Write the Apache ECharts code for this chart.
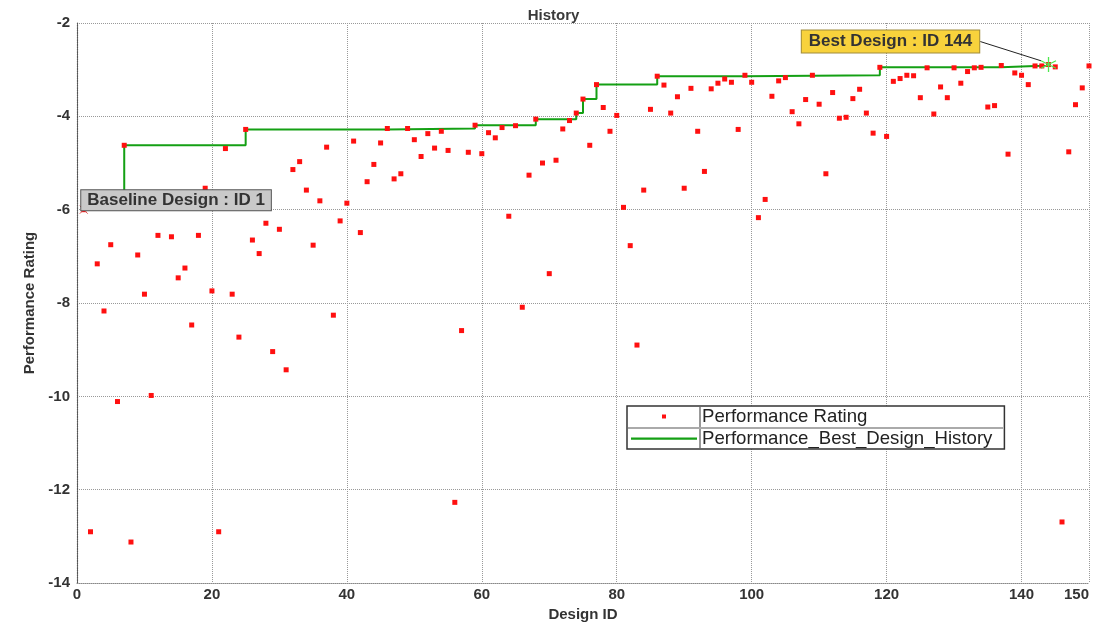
<!DOCTYPE html>
<html>
<head>
<meta charset="utf-8">
<script src="https://cdn.jsdelivr.net/npm/echarts@6/dist/echarts.min.js"></script>
<style>html,body{margin:0;padding:0;background:#fff;}#c{width:1107px;height:627px;}</style>
</head>
<body>
<div id="c"></div>
<script>
const chartTitle = 'History';
const xName = 'Design ID';
const yName = 'Performance Rating';
const scatterName = 'Performance Rating';
const bestName = 'Performance_Best_Design_History';

const designIds = [1,2,3,4,5,6,7,8,9,10,11,12,14,15,16,17,18,19,20,
  21,22,23,24,25,26,27,28,29,30,31,32,33,34,35,36,37,38,39,40,
  41,42,43,44,45,46,47,48,49,50,51,52,53,54,55,56,57,58,59,60,
  61,62,63,64,65,66,67,68,69,70,71,72,73,74,75,76,77,78,79,80,
  81,82,83,84,85,86,87,88,89,90,91,92,93,94,95,96,97,98,99,100,
  101,102,103,104,105,106,107,108,109,110,111,112,113,114,115,116,117,118,119,120,
  121,122,123,124,125,126,127,128,129,130,131,132,133,134,135,136,137,138,139,140,
  141,142,143,144,145,146,147,148,149,150];
const ratings = [-6.0,-12.9,-7.16,-8.17,-6.75,-10.11,-4.62,-13.12,-6.97,-7.81,-9.98,-6.55,-6.58,-7.46,-7.25,-8.47,-6.55,-5.54,-7.74,
  -12.9,-4.69,-7.81,-8.73,-4.28,-6.65,-6.94,-6.29,-9.04,-6.42,-9.43,-5.14,-4.97,-5.58,-6.76,-5.81,-4.66,-8.26,-6.24,-5.86,
  -4.53,-6.49,-5.40,-5.03,-4.57,-4.26,-5.34,-5.23,-4.26,-4.50,-4.86,-4.37,-4.68,-4.32,-4.73,-12.27,-8.59,-4.77,-4.19,-4.80,
  -4.35,-4.46,-4.24,-6.14,-4.20,-8.09,-5.26,-4.06,-5.00,-7.37,-4.94,-4.27,-4.09,-3.93,-3.63,-4.62,-3.32,-3.81,-4.32,-3.98,
  -5.95,-6.77,-8.90,-5.58,-3.85,-3.14,-3.33,-3.93,-3.58,-5.54,-3.40,-4.32,-5.18,-3.41,-3.29,-3.20,-3.27,-4.28,-3.12,-3.27,
  -6.17,-5.78,-3.57,-3.24,-3.17,-3.90,-4.16,-3.64,-3.12,-3.74,-5.23,-3.49,-4.04,-4.02,-3.62,-3.42,-3.93,-4.36,-2.95,-4.43,
  -3.25,-3.19,-3.12,-3.13,-3.60,-2.96,-3.95,-3.37,-3.60,-2.96,-3.29,-3.04,-2.96,-2.95,-3.80,-3.77,-2.91,-4.81,-3.07,-3.12,
  -3.32,-2.92,-2.92,-2.89,-2.94,-12.69,-4.76,-3.75,-3.39,-2.92];

const bestIds = [1,7,25,46,59,68,74,75,77,86,99,119,137,144];
const bestValues = [-6.0,-4.62,-4.28,-4.26,-4.19,-4.06,-3.93,-3.63,-3.32,-3.14,-3.12,-2.95,-2.91,-2.89];

const baselineId = 1, baselineValue = -6.0;
const bestId = 144, bestValue = -2.89;

const xTicks = {min: 0, max: 150, interval: 20};
const yTicks = {min: -14, max: -2, interval: 2};

const FONT = 'Liberation Sans, Arial, sans-serif';
const chart = echarts.init(document.getElementById('c'));
const scatterData = designIds.map((id, i) => [id, ratings[i]]);
const bestData = bestIds.map((id, i) => [id, bestValues[i]]);

chart.setOption({
  backgroundColor: '#fff',
  animation: false,
  title: {
    text: chartTitle, left: 'center', top: 3,
    textStyle: {fontFamily: FONT, fontSize: 15, fontWeight: 'bold', color: '#3a3a3a'}
  },
  grid: {left: 77, right: 18, top: 23, bottom: 40, containLabel: false},
  legend: {
    orient: 'vertical', left: 627, top: 406,
    itemWidth: 66, itemHeight: 16, itemGap: 3,
    padding: [1, 12, 1, 4],
    backgroundColor: '#fff', borderColor: '#333', borderWidth: 1.5,
    textStyle: {fontFamily: FONT, fontSize: 18.6, color: '#222'},
    data: [
      {name: scatterName, icon: 'path://M0,0M66,16M31,6h4v4h-4z'},
      {name: bestName, icon: 'path://M0,0M66,16M0,7h66v2.2h-66z'}
    ]
  },
  xAxis: {
    type: 'value', min: xTicks.min, max: xTicks.max, interval: xTicks.interval,
    name: xName, nameLocation: 'middle', nameGap: 20,
    nameTextStyle: {fontFamily: FONT, fontSize: 15, fontWeight: 'bold', color: '#333'},
    axisLine: {show: true, onZero: false, lineStyle: {color: '#888', type: 'dotted', width: 1}},
    axisTick: {show: false},
    axisLabel: {fontFamily: FONT, fontSize: 15, fontWeight: 'bold', color: '#333', margin: 4, alignMaxLabel: 'right'},
    splitLine: {show: true, lineStyle: {color: '#999', type: 'dotted', width: 1}}
  },
  yAxis: {
    type: 'value', min: yTicks.min, max: yTicks.max, interval: yTicks.interval,
    name: yName, nameLocation: 'middle', nameGap: 40,
    nameTextStyle: {fontFamily: FONT, fontSize: 15, fontWeight: 'bold', color: '#333'},
    axisLine: {show: true, onZero: false, lineStyle: {color: '#555', type: 'dotted', width: 1.2}},
    axisTick: {show: false},
    axisLabel: {fontFamily: FONT, fontSize: 15, fontWeight: 'bold', color: '#333', margin: 7},
    splitLine: {show: true, lineStyle: {color: '#999', type: 'dotted', width: 1}}
  },
  graphic: [
    {type: 'line', shape: {x1: 700, y1: 407, x2: 700, y2: 448}, style: {stroke: '#333', lineWidth: 1}, z: 200},
    {type: 'line', shape: {x1: 628, y1: 428, x2: 1003, y2: 428}, style: {stroke: '#aaa', lineWidth: 2}, z: 200}
  ],
  series: [
    {
      name: bestName, type: 'line', step: 'end', data: bestData,
      showSymbol: false, symbol: 'none',
      lineStyle: {color: '#14a014', width: 2}, itemStyle: {color: '#14a014'}, z: 2
    },
    {
      name: scatterName, type: 'scatter', data: scatterData,
      symbol: 'rect', symbolSize: 5,
      itemStyle: {color: '#ff1010', opacity: 1}, z: 3
    },
    {
      type: 'scatter', name: 'baseline', data: [[baselineId, baselineValue]],
      symbol: 'path://M0,0L10,10M10,0L0,10', symbolSize: 8,
      itemStyle: {color: 'none', borderColor: '#e05050', borderWidth: 1, opacity: 1},
      label: {
        show: true, formatter: 'Baseline Design : ID 1', position: [4, 4], offset: [0, 3],
        align: 'left', verticalAlign: 'bottom',
        fontFamily: FONT, fontSize: 17, fontWeight: 'bold', color: '#333',
        backgroundColor: '#c9c9c9', borderColor: '#555', borderWidth: 1, padding: [2, 6, 1, 6]
      },
      z: 10
    },
    {
      type: 'scatter', name: 'best', data: [[bestId, bestValue]],
      symbol: 'path://M10,0L10,20M1.34,5L18.66,15M1.34,15L18.66,5', symbolSize: 15,
      itemStyle: {color: 'none', borderColor: '#4ee84e', borderWidth: 1.3, opacity: 1},
      label: {
        show: true, formatter: 'Best Design : ID 144', position: 'inside',
        fontFamily: FONT, fontSize: 17, fontWeight: 'bold', color: '#333',
        backgroundColor: '#f8d23c', borderColor: '#a08c3c', borderWidth: 1, padding: [3, 7, 2, 7]
      },
      labelLayout: {dx: -158, dy: -23},
      labelLine: {show: true, lineStyle: {color: '#222', width: 1}},
      z: 10
    }
  ]
});
</script>
</body>
</html>
